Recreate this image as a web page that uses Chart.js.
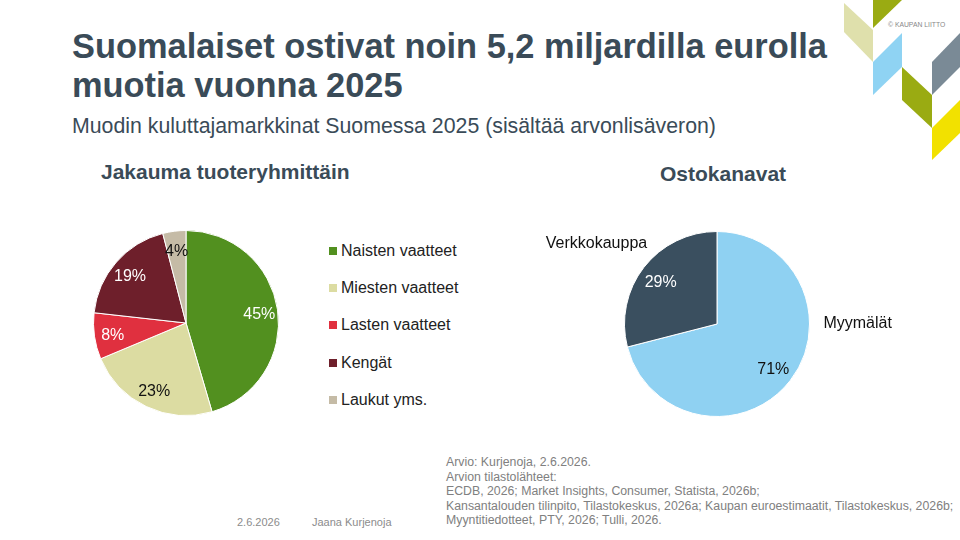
<!DOCTYPE html>
<html lang="fi">
<head>
<meta charset="UTF-8">
<title>Muodin kuluttajamarkkinat 2025</title>
<script src="https://cdn.jsdelivr.net/npm/chart.js"></script>
<style>
    body { margin: 0; width: 960px; height: 540px; background: #fff; overflow: hidden; position: relative;
           font-family: "Liberation Sans", Arial, sans-serif; }
    .otsikko { position: absolute; left: 72px; top: 27px; font-size: 34.4px; font-weight: bold; color: #3a4b58; line-height: 39px; margin: 0; }
    .ala { position: absolute; left: 72px; top: 114px; font-size: 21.3px; color: #3a4b58; margin: 0; }
    .kuvaaja { position: absolute; font-size: 21px; font-weight: bold; color: #3a4b58; margin: 0; }
    .laatikko { position: absolute; }
    #selite { position: absolute; left: 329px; top: 232px; font-size: 16px; color: #222; }
    #selite div { height: 37.3px; display: flex; align-items: center; }
    #selite span.neliö { width: 8px; height: 8px; display: inline-block; margin-right: 4px; }
    .lahteet { position: absolute; left: 446px; top: 455px; font-size: 12.3px; line-height: 14.6px; color: #808080; }
    .alapalkki { position: absolute; top: 516px; font-size: 11px; color: #8c8c8c; }
    #logo { position: absolute; left: 830px; top: 0; }
</style>
</head>
<body>
    <p class="otsikko">Suomalaiset ostivat noin 5,2 miljardilla eurolla<br>muotia vuonna 2025</p>
    <p class="ala">Muodin kuluttajamarkkinat Suomessa 2025 (sisältää arvonlisäveron)</p>

    <p class="kuvaaja" style="left: 101px; top: 160px;">Jakauma tuoteryhmittäin</p>
    <p class="kuvaaja" style="left: 660px; top: 162px;">Ostokanavat</p>

    <div class="laatikko" style="left: 90px; top: 227px; width: 192px; height: 192px;">
        <canvas id="tuoteryhmat"></canvas>
    </div>
    <div id="selite"></div>

    <div class="laatikko" style="left: 540px; top: 222px; width: 360px; height: 204px;">
        <canvas id="kanavat"></canvas>
    </div>

    <div class="lahteet">
        Arvio: Kurjenoja, 2.6.2026.<br>
        Arvion tilastolähteet:<br>
        ECDB, 2026; Market Insights, Consumer, Statista, 2026b;<br>
        Kansantalouden tilinpito, Tilastokeskus, 2026a; Kaupan euroestimaatit, Tilastokeskus, 2026b;<br>
        Myyntitiedotteet, PTY, 2026; Tulli, 2026.
    </div>
    <div class="alapalkki" style="left: 237px;">2.6.2026</div>
    <div class="alapalkki" style="left: 312px;">Jaana Kurjenoja</div>

    <svg id="logo" width="130" height="170" viewBox="830 0 130 170">
        <polygon points="844,3 873,30 873,62 844,32" fill="#dfe0ac" />
        <polygon points="873,0 902,0 873,28" fill="#9aab12" />
        <polygon points="873,62 902,33 902,67 873,95" fill="#8fd3f3" />
        <polygon points="902,67 932,95 932,128 902,100" fill="#9aab12" />
        <polygon points="932,62 960,33 960,67 932,95" fill="#7a8a96" />
        <polygon points="932,128 960,100 960,133 932,160" fill="#f2e100" />
        <text x="888" y="27" font-size="6.8" fill="#888" font-family="Liberation Sans, Arial">© KAUPAN LIITTO</text>
    </svg>
</body>
</html>
<script>
    // tuoteryhmät (%)
    var tuoteryhmat = ['Naisten vaatteet', 'Miesten vaatteet', 'Lasten vaatteet', 'Kengät', 'Laukut yms.'];
    var tuoteryhmaOsuudet = [45, 23, 8, 19, 4];
    var tuoteryhmaVarit = ['#52901f', '#dcdca2', '#e0303f', '#6e1f2b', '#c5bba6'];
    var tuoteryhmaTekstit = ['#fff', '#111', '#fff', '#fff', '#111'];

    // ostokanavat (%)
    var kanavat = ['Myymälät', 'Verkkokauppa'];
    var kanavaOsuudet = [71, 29];
    var kanavaVarit = ['#8fd1f2', '#3a4f5f'];
    var kanavaTekstit = ['#111', '#fff'];

    // prosenttiluvut viipaleiden sisään, kategorianimet ulos
    var tekstit = {
        id: 'tekstit',
        afterDatasetsDraw(chart, args, opts) {
            var ctx = chart.ctx;
            var ds = chart.data.datasets[0];
            chart.getDatasetMeta(0).data.forEach((arc, i) => {
                var p = arc.getProps(['x', 'y', 'startAngle', 'endAngle', 'outerRadius'], true);
                var kulma = (p.startAngle + p.endAngle) / 2;
                var r = p.outerRadius * opts.sisaan;
                ctx.save();
                ctx.font = '16px "Liberation Sans", Arial, sans-serif';
                ctx.fillStyle = ds.tekstiVarit[i];
                ctx.textAlign = 'center';
                ctx.textBaseline = 'middle';
                ctx.fillText(ds.data[i] + '%', p.x + Math.cos(kulma) * r, p.y + Math.sin(kulma) * r + 2);

                if (opts.nimiKulmat) {
                    var a = (opts.nimiKulmat[i] - 90) * Math.PI / 180;
                    var rr = p.outerRadius * opts.ulos;
                    var x = p.x + Math.cos(a) * rr;
                    ctx.fillStyle = '#111';
                    ctx.textAlign = x > p.x ? 'left' : 'right';
                    ctx.fillText(chart.data.labels[i], x, p.y + Math.sin(a) * rr);
                }
                ctx.restore();
            });
        }
    };

    function piirakka(id, nimet, arvot, varit, tekstiVarit, lisat, padding) {
        return new Chart(document.getElementById(id).getContext('2d'), {
            type: 'pie',
            data: {
                labels: nimet,
                datasets: [{
                    data: arvot,
                    backgroundColor: varit,
                    tekstiVarit: tekstiVarit,
                    borderColor: '#fff',
                    borderWidth: 1
                }]
            },
            options: {
                responsive: true,
                maintainAspectRatio: false,
                animation: false,
                layout: { padding: padding },
                plugins: {
                    legend: { display: false },
                    tooltip: { enabled: false },
                    tekstit: lisat
                }
            },
            plugins: [tekstit]
        });
    }

    piirakka('tuoteryhmat', tuoteryhmat, tuoteryhmaOsuudet, tuoteryhmaVarit, tuoteryhmaTekstit,
        { sisaan: 0.8 }, 3);
    piirakka('kanavat', kanavat, kanavaOsuudet, kanavaVarit, kanavaTekstit,
        { sisaan: 0.77, ulos: 1.15, nimiKulmat: [90, 319] }, { top: 9, bottom: 9, left: 0, right: 6 });

    // selite
    var selite = document.getElementById('selite');
    tuoteryhmat.forEach((nimi, i) => {
        var rivi = document.createElement('div');
        rivi.innerHTML = '<span class="neliö" style="background:' + tuoteryhmaVarit[i] + '"></span>' + nimi;
        selite.appendChild(rivi);
    });
</script>
